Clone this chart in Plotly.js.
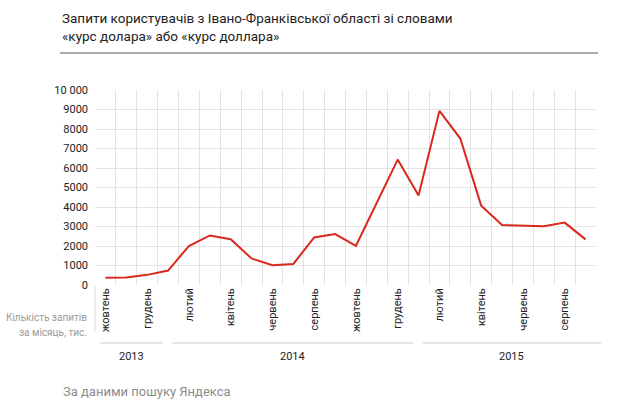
<!DOCTYPE html>
<html>
<head>
<meta charset="utf-8">
<script src="https://cdn.plot.ly/plotly-3.0.1.min.js"></script>
<style>
  html, body { margin: 0; padding: 0; background: #fff; }
  #chart { width: 640px; height: 405px; }
</style>
</head>
<body>
<div id="chart"></div>
<script>
// місяці жовтень 2013 - вересень 2015
const months = [
  '2013-10', '2013-11', '2013-12',
  '2014-01', '2014-02', '2014-03', '2014-04', '2014-05', '2014-06',
  '2014-07', '2014-08', '2014-09', '2014-10', '2014-11', '2014-12',
  '2015-01', '2015-02', '2015-03', '2015-04', '2015-05', '2015-06',
  '2015-07', '2015-08', '2015-09'
];
// підписи під віссю (кожен другий місяць)
const monthLabels = [
  'жовтень', '', 'грудень',
  '', 'лютий', '', 'квітень', '', 'червень',
  '', 'серпень', '', 'жовтень', '', 'грудень',
  '', 'лютий', '', 'квітень', '', 'червень',
  '', 'серпень', ''
];
const queries = [
  370, 380, 520,
  740, 2000, 2540, 2350, 1360, 1010,
  1080, 2440, 2610, 2010, 4200, 6430,
  4590, 8930, 7510, 4070, 3080, 3050,
  3010, 3200, 2340
];
const yTicks = [0, 1000, 2000, 3000, 4000, 5000, 6000, 7000, 8000, 9000, 10000];
const yTickText = ['0', '1000', '2000', '3000', '4000', '5000', '6000', '7000', '8000', '9000', '10 000'];
const years = ['2013', '2014', '2015'];
const yTitle = ['Кількість запитів', 'за місяць, тис.'];

// розміри області графіка в пікселях
const W = 640, H = 405;
const M = {l: 95, r: 44, t: 90, b: 120};
const pw = W - M.l - M.r, ph = H - M.t - M.b;
function px(x) { return (x - M.l) / pw; }
function py(y) { return 1 - (y - M.t) / ph; }

const FONT = 'Roboto, "Liberation Sans", Arial, sans-serif';
const n = months.length;

let shapes = [
  // лінія під заголовком
  {type: 'line', xref: 'paper', yref: 'paper', x0: px(60), x1: px(598), y0: py(53), y1: py(53),
   line: {color: '#555', width: 1}},
  // ліва межа, що йде вниз
  {type: 'line', xref: 'paper', yref: 'paper', x0: 0, x1: 0, y0: 0, y1: py(332),
   line: {color: '#d9d9d9', width: 1}}
];
let annotations = [
  {xref: 'paper', yref: 'paper', x: px(60), y: py(8), xanchor: 'left', yanchor: 'top', align: 'left',
   text: 'Запити користувачів з Івано-Франківської області зі словами<br>«курс долара» або «курс доллара»',
   showarrow: false, font: {family: FONT, size: 13.5, color: '#222'}},
  {xref: 'paper', yref: 'paper', x: px(61), y: py(391), xanchor: 'left', yanchor: 'middle',
   text: 'За даними пошуку Яндекса', showarrow: false,
   font: {family: FONT, size: 13, color: '#8c8c8c'}}
];
// підпис осі Y у два рядки
yTitle.forEach(function(t, i) {
  annotations.push({xref: 'paper', yref: 'paper', x: px(89), y: py(317 + i * 15), xanchor: 'right', yanchor: 'middle',
                    text: t, showarrow: false, font: {family: FONT, size: 10, color: '#9a9a9a'}});
});

// роки: лінія над підписом року
years.forEach(function(yr) {
  let s = months.findIndex(m => m.startsWith(yr));
  let cnt = months.filter(m => m.startsWith(yr)).length;
  let x0 = (s === 0 ? s + 0.25 : s + 0.7) / n;
  let x1 = (s + cnt + 0.25) / n;
  shapes.push({type: 'line', xref: 'paper', yref: 'paper', x0: x0, x1: x1, y0: py(343), y1: py(343),
               line: {color: '#dcdcdc', width: 1.5}});
  annotations.push({xref: 'paper', yref: 'paper', x: (x0 + x1) / 2, y: py(356), xanchor: 'center', yanchor: 'middle',
                    text: yr, showarrow: false, font: {family: FONT, size: 11, color: '#222'}});
});

const trace = {
  x: months,
  y: queries,
  type: 'scatter',
  mode: 'lines',
  line: {color: '#d9281e', width: 2},
  hoverinfo: 'x+y'
};

const layout = {
  width: W,
  height: H,
  margin: M,
  paper_bgcolor: '#fff',
  plot_bgcolor: '#fff',
  showlegend: false,
  font: {family: FONT, size: 11, color: '#222'},
  xaxis: {
    type: 'category',
    tickmode: 'array',
    tickvals: months,
    ticktext: monthLabels,
    tickson: 'boundaries',
    tickangle: -90,
    ticks: '',
    showgrid: true,
    gridcolor: '#e3e3e3',
    gridwidth: 1,
    zeroline: false,
    showline: false,
    range: [-0.5, n - 0.5],
    tickfont: {family: FONT, size: 11, color: '#222'}
  },
  yaxis: {
    range: [0, 10000],
    tickmode: 'array',
    tickvals: yTicks,
    ticktext: yTickText,
    showgrid: true,
    gridcolor: '#e3e3e3',
    gridwidth: 1,
    zeroline: false,
    showline: false,
    ticks: '',
    ticklabelstandoff: 6,
    tickfont: {family: FONT, size: 11, color: '#222'}
  },
  shapes: shapes,
  annotations: annotations
};

Plotly.newPlot('chart', [trace], layout, {displayModeBar: false, staticPlot: true});
</script>
</body>
</html>
